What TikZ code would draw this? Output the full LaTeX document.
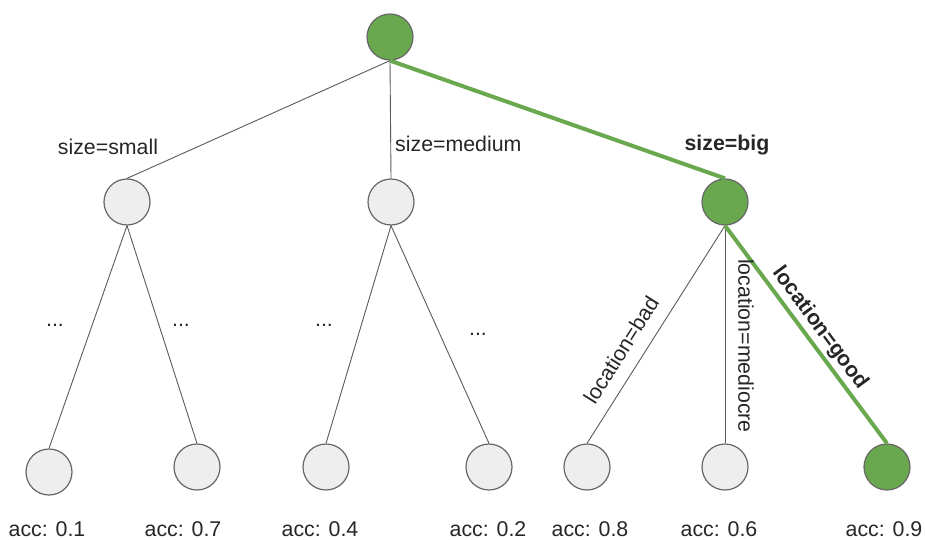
\documentclass[tikz,border=0pt]{standalone}
\usepackage{fontspec}
\setmainfont{Liberation Sans}
\definecolor{pathgreen}{HTML}{6AA84F}
\definecolor{nodegray}{HTML}{EEEEEE}
\definecolor{rimgray}{HTML}{666666}
\definecolor{linegray}{HTML}{5A5A5A}
\begin{document}
\begin{tikzpicture}[x=1pt,y=-1pt,
  treenode/.style={circle, draw=rimgray, line width=1.2pt, minimum size=46pt,
                   inner sep=0pt, fill=nodegray},
  chosen/.style={fill=pathgreen},
  branch/.style={draw=linegray, line width=0.9pt},
  bestbranch/.style={draw=pathgreen, line width=4pt},
  lbl/.style={font=\fontsize{21.33}{24}\selectfont, inner sep=0pt, text=black!85},
  blbl/.style={lbl, font=\fontsize{21.33}{24}\selectfont\bfseries}
]
\useasboundingbox (0,0) rectangle (925,540);

% tree nodes
\node[treenode, chosen] (root) at (390,37) {};
\node[treenode] (small)  at (127,202) {};
\node[treenode] (medium) at (391,202) {};
\node[treenode, chosen] (big) at (725,202) {};

\node[treenode] (l1) at (49,472) {};
\node[treenode] (l2) at (197,467) {};
\node[treenode] (l3) at (326,467) {};
\node[treenode] (l4) at (489,467) {};
\node[treenode] (l5) at (587,467) {};
\node[treenode] (l6) at (725,467) {};
\node[treenode, chosen] (l7) at (887,467) {};

% branches
\draw[branch] (root.south) -- (small.north);
\draw[branch] (root.south) -- (medium.north);
\draw[branch] (small.south) -- (l1.north);
\draw[branch] (small.south) -- (l2.north);
\draw[branch] (medium.south) -- (l3.north);
\draw[branch] (medium.south) -- (l4.north);
\draw[branch] (big.south) -- (l5.north);
\draw[branch] (big.south) -- (l6.north);

% best path
\draw[bestbranch] (root.south) -- (big.north);
\draw[bestbranch] (big.south) -- (l7.north);

% branch labels
\node[lbl, anchor=base] (tsmall) at (108,154) {size=small};
\node[lbl, anchor=base west] (tmedium) at (395,152) {size=medium};
\node[blbl, anchor=base] (tbig) at (727,150) {size=big};

\node[lbl, rotate=57.8] (tbad) at (621,350) {location=bad};
\node[lbl, rotate=-90] (tmed) at (746,346) {location=mediocre};
\node[blbl, rotate=-53.5] (tgood) at (820,328) {location=good};

% elided subtrees
\node[lbl, anchor=base] (d1) at (55,326) {...};
\node[lbl, anchor=base] (d2) at (181,326) {...};
\node[lbl, anchor=base] (d3) at (324,326) {...};
\node[lbl, anchor=base] (d4) at (478,335) {...};

% leaf accuracies
\node[lbl, anchor=base] (a1) at (47,536)  {acc: 0.1};
\node[lbl, anchor=base] (a2) at (183,536) {acc: 0.7};
\node[lbl, anchor=base] (a3) at (320,536) {acc: 0.4};
\node[lbl, anchor=base] (a4) at (488,536) {acc: 0.2};
\node[lbl, anchor=base] (a5) at (590,536) {acc: 0.8};
\node[lbl, anchor=base] (a6) at (719,536) {acc: 0.6};
\node[lbl, anchor=base] (a7) at (884,536) {acc: 0.9};
\end{tikzpicture}
\end{document}
